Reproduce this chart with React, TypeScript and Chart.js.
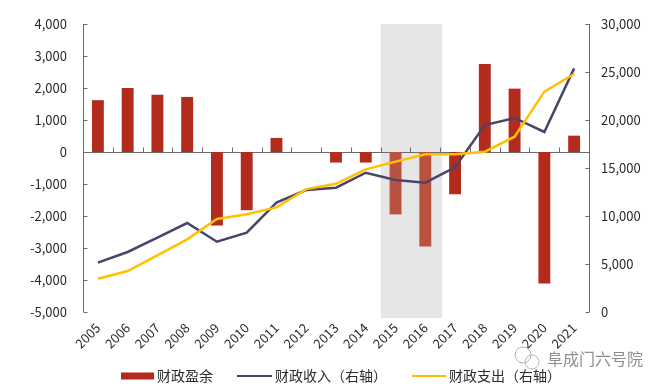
import React, { useEffect, useRef } from "react";
import { Chart, registerables } from "chart.js";

Chart.register(...registerables);

const years = ["2005","2006","2007","2008","2009","2010","2011","2012","2013","2014","2015","2016","2017","2018","2019","2020","2021"];
const surplus = [1620, 2000, 1790, 1720, -2300, -1820, 440, 0, -330, -330, -1950, -2950, -1320, 2750, 1980, -4110, 510];
const revenue = [5140, 6250, 7740, 9270, 7320, 8260, 11390, 12700, 12950, 14510, 13750, 13470, 15070, 19480, 20210, 18750, 25380];
const spending = [3470, 4270, 5900, 7570, 9690, 10180, 10900, 12800, 13350, 14860, 15660, 16420, 16420, 16700, 18260, 22950, 24790];
const shadeYears = ["2015", "2016"];
const leftTicks = [-5000, 4000, 1000];
const rightTicks = [0, 30000, 5000];
const legendLabels = ["财政盈余", "财政收入（右轴）", "财政支出（右轴）"];
const watermark = "阜成门六号院";

const BAR = "#B32B1D";
const BAR_SHADED = "#B9533F";
const PURPLE = "#4A4568";
const GOLD = "#FFC000";
const AXIS = "#6b6b6b";
const TEXT = "#2b2b2b";
const FONT = "'Noto Sans CJK SC', 'Noto Sans', sans-serif";

const fmt = (v: number) => v.toLocaleString("en-US");

export default function App() {
  const ref = useRef<HTMLCanvasElement | null>(null);

  useEffect(() => {
    document.body.style.margin = "0";
    const canvas = ref.current!;

    const decor = {
      id: "decor",
      beforeDatasetsDraw(chart: any) {
        const { ctx, chartArea, scales } = chart;
        const x = scales.x;
        const yL = scales.y;
        const yR = scales.y1;
        const catW = x.getPixelForValue(1) - x.getPixelForValue(0);
        const i0 = years.indexOf(shadeYears[0]);
        const i1 = years.indexOf(shadeYears[1]);
        const sx0 = x.getPixelForValue(i0) - catW / 2;
        const sx1 = x.getPixelForValue(i1) + catW / 2 + 2;
        ctx.save();
        ctx.fillStyle = "#E6E6E6";
        ctx.fillRect(sx0, chartArea.top, sx1 - sx0, chartArea.bottom - chartArea.top + 6);

        ctx.strokeStyle = AXIS;
        ctx.lineWidth = 1;
        // left axis
        const lx = Math.round(chartArea.left) + 0.5;
        ctx.beginPath();
        ctx.moveTo(lx, yL.getPixelForValue(leftTicks[1]));
        ctx.lineTo(lx, yL.getPixelForValue(leftTicks[0]));
        for (let v = leftTicks[0]; v <= leftTicks[1]; v += leftTicks[2]) {
          const py = Math.round(yL.getPixelForValue(v)) + 0.5;
          ctx.moveTo(lx, py);
          ctx.lineTo(lx + 4, py);
        }
        ctx.stroke();
        // right axis
        const rx = Math.round(chartArea.right) + 0.5;
        ctx.beginPath();
        ctx.moveTo(rx, yR.getPixelForValue(rightTicks[1]));
        ctx.lineTo(rx, yR.getPixelForValue(rightTicks[0]));
        for (let v = rightTicks[0]; v <= rightTicks[1]; v += rightTicks[2]) {
          const py = Math.round(yR.getPixelForValue(v)) + 0.5;
          ctx.moveTo(rx, py);
          ctx.lineTo(rx - 4, py);
        }
        ctx.stroke();
        // zero line
        const zy = Math.round(yL.getPixelForValue(0)) + 0.5;
        ctx.beginPath();
        ctx.moveTo(chartArea.left, zy);
        ctx.lineTo(chartArea.right, zy);
        for (let i = 1; i < years.length; i++) {
          const px = Math.round(x.getPixelForValue(i) - catW / 2) + 0.5;
          ctx.moveTo(px, zy);
          ctx.lineTo(px, zy - 5);
        }
        ctx.stroke();
        ctx.restore();
      },
      afterDraw(chart: any) {
        const { ctx } = chart;
        ctx.save();
        ctx.font = `14px ${FONT}`;
        ctx.textBaseline = "middle";
        ctx.fillStyle = TEXT;
        const ly = 376;
        // bar item
        ctx.fillStyle = BAR;
        ctx.fillRect(121, ly - 3.5, 33, 7);
        ctx.fillStyle = TEXT;
        ctx.fillText(legendLabels[0], 157, ly);
        // revenue
        ctx.strokeStyle = PURPLE;
        ctx.lineWidth = 2;
        ctx.beginPath();
        ctx.moveTo(237, ly);
        ctx.lineTo(272, ly);
        ctx.stroke();
        ctx.fillText(legendLabels[1], 275, ly);
        // spending
        ctx.strokeStyle = GOLD;
        ctx.beginPath();
        ctx.moveTo(412, ly);
        ctx.lineTo(446, ly);
        ctx.stroke();
        ctx.fillText(legendLabels[2], 449, ly);

        // watermark
        ctx.strokeStyle = "#b5b5b5";
        ctx.lineWidth = 1;
        ctx.beginPath();
        ctx.arc(523, 355, 8, 0, Math.PI * 2);
        ctx.stroke();
        ctx.beginPath();
        ctx.arc(532, 362, 7, 0, Math.PI * 2);
        ctx.stroke();
        ctx.font = `16px ${FONT}`;
        ctx.fillStyle = "#8f8f8f";
        ctx.fillText(watermark, 547, 359);
        ctx.restore();
      },
    };

    const chart = new Chart(canvas, {
      type: "bar",
      data: {
        labels: years,
        datasets: [
          {
            type: "bar",
            label: legendLabels[0],
            data: surplus,
            backgroundColor: years.map((y) => (shadeYears.includes(y) ? BAR_SHADED : BAR)),
            yAxisID: "y",
            barPercentage: 0.4,
            categoryPercentage: 1,
            order: 3,
          },
          {
            type: "line",
            label: legendLabels[1],
            data: revenue,
            borderColor: PURPLE,
            borderWidth: 2.5,
            pointRadius: 0,
            tension: 0,
            yAxisID: "y1",
            order: 2,
          },
          {
            type: "line",
            label: legendLabels[2],
            data: spending,
            borderColor: GOLD,
            borderWidth: 2.5,
            pointRadius: 0,
            tension: 0,
            yAxisID: "y1",
            order: 1,
          },
        ],
      } as any,
      options: {
        animation: false,
        responsive: false,
        maintainAspectRatio: false,
        layout: { padding: { top: 24, left: 0, right: 0, bottom: 0 } },
        plugins: { legend: { display: false }, tooltip: { enabled: false } },
        scales: {
          x: {
            offset: true,
            grid: { display: false, drawTicks: false },
            border: { display: false },
            ticks: {
              color: TEXT,
              font: { size: 13, family: FONT },
              maxRotation: 45,
              minRotation: 45,
              padding: 8,
              autoSkip: false,
            },
            afterFit: (s: any) => {
              s.height = 76;
            },
          },
          y: {
            position: "left",
            min: leftTicks[0],
            max: leftTicks[1],
            grid: { display: false, drawTicks: false },
            border: { display: false },
            ticks: {
              stepSize: leftTicks[2],
              color: TEXT,
              font: { size: 13, family: FONT },
              padding: 16,
              callback: (v: any) => fmt(Number(v)),
            },
            afterFit: (s: any) => {
              s.width = 83;
            },
          },
          y1: {
            position: "right",
            min: rightTicks[0],
            max: rightTicks[1],
            grid: { display: false, drawTicks: false },
            border: { display: false },
            ticks: {
              stepSize: rightTicks[2],
              color: TEXT,
              font: { size: 13, family: FONT },
              padding: 12,
              callback: (v: any) => fmt(Number(v)),
            },
            afterFit: (s: any) => {
              s.width = 75;
            },
          },
        },
      } as any,
      plugins: [decor],
    });
    return () => chart.destroy();
  }, []);

  return (
    <div style={{ width: 664, height: 388, background: "#fff" }}>
      <canvas ref={ref} width={664} height={388} style={{ display: "block" }} />
    </div>
  );
}
